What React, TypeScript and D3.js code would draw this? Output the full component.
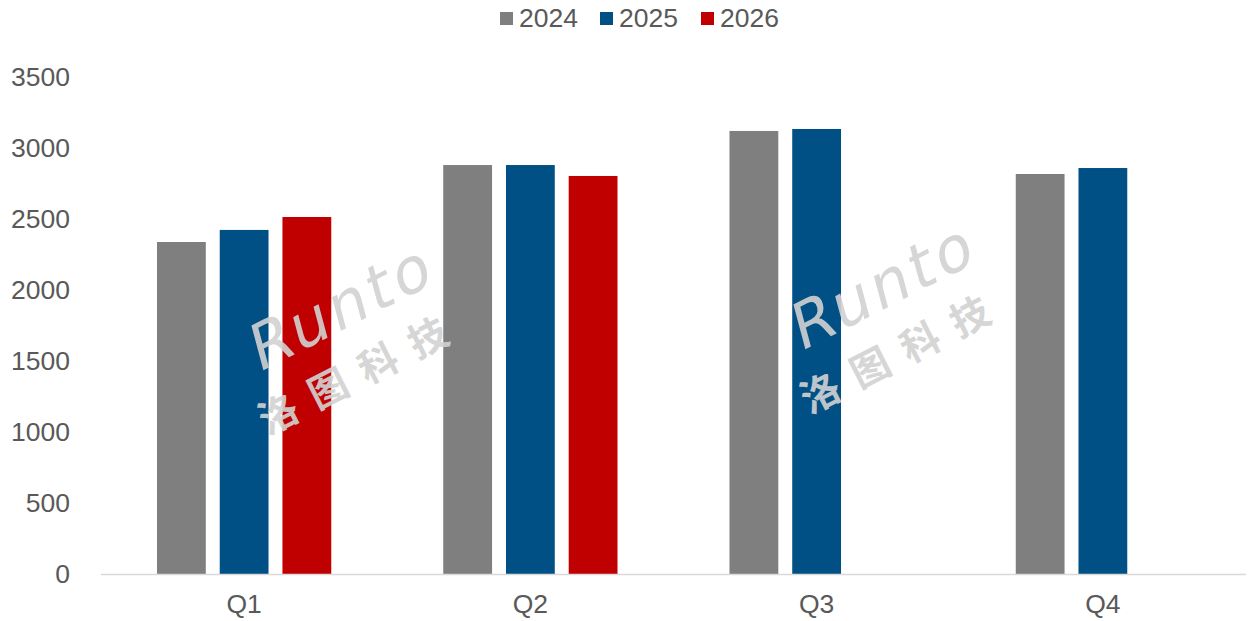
import React, { useEffect, useRef } from 'react';
import * as d3 from 'd3';

const quarters = ['Q1', 'Q2', 'Q3', 'Q4'];
const years = ['2024', '2025', '2026'];
const values2024 = [2338, 2880, 3120, 2817];
const values2025 = [2423, 2880, 3134, 2859];
const values2026: (number | null)[] = [2514, 2803, null, null];
const yTicks = [0, 500, 1000, 1500, 2000, 2500, 3000, 3500];
const colors = ['#7f7f7f', '#005086', '#c00000'];

const App: React.FC = () => {
  const svgRef = useRef<SVGSVGElement>(null);

  useEffect(() => {
    if (!svgRef.current) return;
    const svg = d3.select(svgRef.current);
    svg.selectAll('*').remove();

    const width = 1257;
    const height = 621;
    const font = '"Liberation Sans", Arial, sans-serif';
    const textColor = '#595959';

    svg.attr('width', width).attr('height', height);

    const seriesValues = [values2024, values2025, values2026];

    // Scales
    const x0 = d3.scaleBand<string>().domain(quarters).range([101, 1246]).padding(0);
    const x1 = d3
      .scaleBand<string>()
      .domain(years)
      .range([56, x0.bandwidth() - 56])
      .paddingInner(0.222)
      .paddingOuter(0);
    const y = d3.scaleLinear().domain([0, 3500]).range([574, 77]);

    // Y tick labels
    svg
      .append('g')
      .selectAll('text')
      .data(yTicks)
      .enter()
      .append('text')
      .attr('x', 70)
      .attr('y', d => y(d))
      .attr('dy', '0.35em')
      .attr('text-anchor', 'end')
      .style('font-family', font)
      .style('font-size', '26.5px')
      .style('fill', textColor)
      .text(d => d);

    // Bars
    years.forEach((yr, si) => {
      const rows = quarters
        .map((q, qi) => ({ q, v: seriesValues[si][qi] }))
        .filter(d => d.v != null) as { q: string; v: number }[];
      svg
        .append('g')
        .selectAll('rect')
        .data(rows)
        .enter()
        .append('rect')
        .attr('x', d => (x0(d.q) || 0) + (x1(yr) || 0))
        .attr('y', d => y(d.v))
        .attr('width', x1.bandwidth())
        .attr('height', d => y(0) - y(d.v))
        .attr('fill', colors[si]);
    });

    // X axis line
    svg
      .append('line')
      .attr('x1', 101)
      .attr('x2', 1246)
      .attr('y1', y(0) + 0.5)
      .attr('y2', y(0) + 0.5)
      .attr('stroke', '#d9d9d9')
      .attr('stroke-width', 1.5);

    // X labels
    svg
      .append('g')
      .selectAll('text')
      .data(quarters)
      .enter()
      .append('text')
      .attr('x', d => (x0(d) || 0) + x0.bandwidth() / 2)
      .attr('y', 604)
      .attr('dy', '0.35em')
      .attr('text-anchor', 'middle')
      .style('font-family', font)
      .style('font-size', '26.5px')
      .style('fill', textColor)
      .text(d => d);

    // Watermarks
    const marks = [
      [258, 373],
      [800, 352],
    ];
    marks.forEach(([mx, my]) => {
      const g = svg
        .append('g')
        .attr('transform', `translate(${mx},${my}) rotate(-27)`)
        .style('fill', '#d2d2d2')
        .style('opacity', 0.9);
      g.append('text')
        .attr('x', 0)
        .attr('y', 0)
        .attr('transform', 'skewX(-12)')
        .style('font-family', '"DejaVu Sans", sans-serif')
        .style('font-size', '62px')
        .style('letter-spacing', '4px')
        .text('Runto');
      g.append('text')
        .attr('x', -20)
        .attr('y', 60)
        .style('font-family', '"Noto Sans CJK SC", sans-serif')
        .style('font-weight', 'bold')
        .style('font-size', '39px')
        .style('letter-spacing', '17px')
        .text('洛图科技');
    });

    // Legend
    const legend = svg.append('g');
    const legendX = [500, 600, 701];
    years.forEach((yr, i) => {
      legend
        .append('rect')
        .attr('x', legendX[i])
        .attr('y', 12)
        .attr('width', 13)
        .attr('height', 13)
        .attr('fill', colors[i]);
      legend
        .append('text')
        .attr('x', legendX[i] + 19)
        .attr('y', 18)
        .attr('dy', '0.35em')
        .style('font-family', font)
        .style('font-size', '26.5px')
        .style('fill', textColor)
        .text(yr);
    });
  }, []);

  return <svg ref={svgRef} style={{ display: 'block', position: 'absolute', left: 0, top: 0 }}></svg>;
};

export default App;
